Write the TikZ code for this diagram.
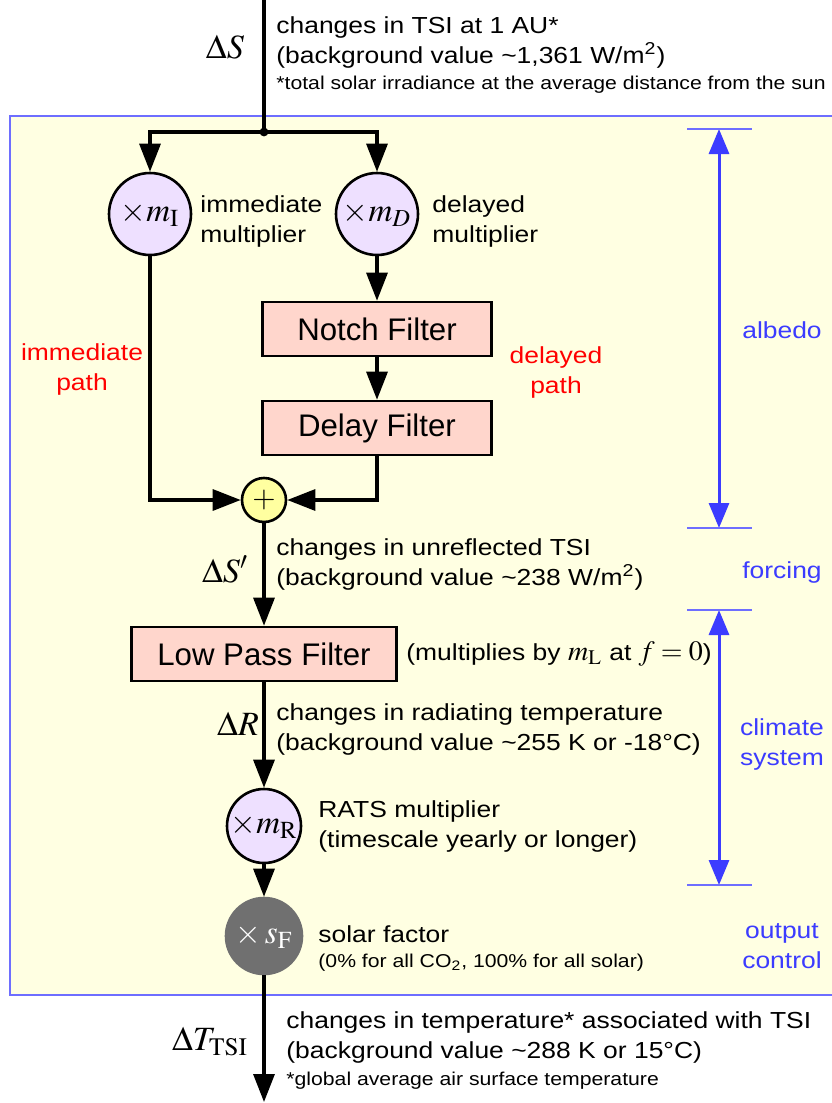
\documentclass[tikz,border=0pt]{standalone}
\usepackage{mathptmx}
\usepackage{fontspec}
\setmainfont{Liberation Sans}
\newfontfamily\notefont{Liberation Sans}[FakeStretch=1.14]
\usetikzlibrary{arrows.meta}

\definecolor{bgyellow}{RGB}{255,255,226}
\definecolor{boxpink}{RGB}{255,214,204}
\definecolor{circlilac}{RGB}{238,224,255}
\definecolor{plusyellow}{RGB}{255,255,160}
\definecolor{sfgray}{RGB}{112,112,112}
\definecolor{dimblue}{RGB}{60,60,255}
\definecolor{tickblue}{RGB}{110,110,255}
\definecolor{pathred}{RGB}{255,0,0}

\newcommand{\annsize}{\notefont\fontsize{11.6}{15}\selectfont}
\newcommand{\notesize}{\notefont\fontsize{9.3}{11}\selectfont}
\newcommand{\sigsize}{\fontsize{17}{17}\selectfont}
\newcommand{\inlinesize}{\fontsize{14}{14}\selectfont}

\tikzset{
  wire/.style={line width=1.6pt},
  flow/.style={line width=1.6pt, -{Triangle[length=14pt,width=10.5pt]}},
  mult/.style={circle, draw, line width=1.3pt, fill=circlilac, inner sep=0pt,
    minimum size=41pt, font=\fontsize{16.5}{16.5}\selectfont},
  filterbox/.style={rectangle, draw, line width=1.3pt, fill=boxpink,
    minimum width=114.5pt, minimum height=27pt, font=\fontsize{15.6}{18}\selectfont},
  ann/.style={anchor=base west, align=left, inner sep=0pt, font=\annsize},
  note/.style={anchor=base west, inner sep=0pt, font=\notesize},
  sig/.style={anchor=base, inner sep=0pt, font=\sigsize},
  redlbl/.style={anchor=base, align=center, text=pathred, inner sep=0pt, font=\annsize},
  bluelbl/.style={anchor=base, align=center, text=dimblue, inner sep=0pt, font=\annsize},
  dim/.style={line width=1.5pt, dimblue,
    {Triangle[length=12.5pt,width=10pt]}-{Triangle[length=12.5pt,width=10pt]}},
  tick/.style={line width=1pt, tickblue},
}

\begin{document}
\begin{tikzpicture}[x=0.5pt, y=-0.5pt]
  \useasboundingbox (0,0) rectangle (831,1103);

  % shaded panel
  \draw[fill=bgyellow, draw=tickblue, line width=0.6pt] (10,116) rectangle (840,995);

  % blocks
  \node[mult] (mI) at (150,214) {$\times m_{\mathrm{I}}$};
  \node[mult] (mD) at (377,214) {$\times m_{D}$};
  \node[filterbox] (notch) at (377,329) {Notch Filter};
  \node[filterbox] (delay) at (377,428) {Delay Filter};
  \node[circle, draw, line width=1.3pt, fill=plusyellow, minimum size=22pt,
    inner sep=0pt, font=\fontsize{15}{15}\selectfont] (plus) at (264,500) {$+$};
  \node[filterbox, minimum width=132.5pt] (lowpass) at (264,654) {Low Pass Filter};
  \node[mult, minimum size=37pt] (mR) at (264,826) {$\times m_{\mathrm{R}}$};
  \node[mult, fill=sfgray, draw=sfgray, text=white, minimum size=38pt] (sF) at (264,936)
    {$\times\, s_{\mathrm{F}}$};

  \coordinate (top) at (264,0);
  \coordinate (split) at (264,132);
  \coordinate (bottom) at (264,1102);

  % signal flow
  \draw[wire] (top) -- (split);
  \fill (split) circle[radius=2.2pt];
  \draw[flow] (split) -| (mI);
  \draw[flow] (split) -| (mD);
  \draw[flow] (mD) -- (notch);
  \draw[flow] (notch) -- (delay);
  \draw[flow] (mI) |- (plus);
  \draw[flow] (delay) |- (plus);
  \draw[flow] (plus) -- (lowpass);
  \draw[flow] (lowpass) -- (mR);
  \draw[flow] (mR) -- (sF);
  \draw[flow] (sF) -- (bottom);

  % signal names and notes (two-line nodes sit on their last baseline)
  \node[sig] (dS) at (225,58) {$\Delta S$};
  \node[ann] (tsiTxt) at (276,63) {changes in TSI at 1 AU*\\(background value \textasciitilde 1,361 W/m\textsuperscript{2})};
  \node[note] (tsiNote) at (276,89) {*total solar irradiance at the average distance from the sun};

  \node[ann] (mIlbl) at (200,242) {immediate\\multiplier};
  \node[ann] (mDlbl) at (432,242) {delayed\\multiplier};
  \node[redlbl] (immPath) at (82,390) {immediate\\path};
  \node[redlbl] (delPath) at (556,393) {delayed\\path};

  \node[sig] (dSp) at (225,582) {$\Delta S'$};
  \node[ann] (unreflTxt) at (276,585) {changes in unreflected TSI\\(background value \textasciitilde 238 W/m\textsuperscript{2})};
  \node[ann] (lpfNote) at (406,660) {(multiplies by {\inlinesize$m_{\mathrm{L}}$} at {\inlinesize$f=0$})};

  \node[sig] (dR) at (238,735) {$\Delta R$};
  \node[ann] (radTxt) at (276,750) {changes in radiating temperature\\(background value \textasciitilde 255 K or -18\textdegree C)};
  \node[ann] (ratsTxt) at (318,847) {RATS multiplier\\(timescale yearly or longer)};
  \node[ann] (sfTxt) at (318,942) {solar factor};
  \node[note] (sfNote) at (318,967) {(0\% for all CO\textsubscript{2}, 100\% for all solar)};

  \node[sig] (dT) at (210,1050) {$\Delta T_{\mathrm{TSI}}$};
  \node[ann] (tempTxt) at (286,1058) {changes in temperature* associated with TSI\\(background value \textasciitilde 288 K or 15\textdegree C)};
  \node[note] (tempNote) at (286,1085) {*global average air surface temperature};

  % ranges on the right
  \coordinate (albTop) at (719,129);
  \coordinate (albBot) at (719,528);
  \coordinate (cliTop) at (719,610);
  \coordinate (cliBot) at (719,885);
  \draw[dim] (albTop) -- (albBot);
  \draw[dim] (cliTop) -- (cliBot);
  \foreach \y in {129,528,610,885}
    \draw[tick] (687,\y) -- (752,\y);

  \node[bluelbl] (albedo) at (782,338) {albedo};
  \node[bluelbl] (forcing) at (782,578) {forcing};
  \node[bluelbl] (climate) at (782,765) {climate\\system};
  \node[bluelbl] (output) at (782,968) {output\\control};
\end{tikzpicture}
\end{document}
